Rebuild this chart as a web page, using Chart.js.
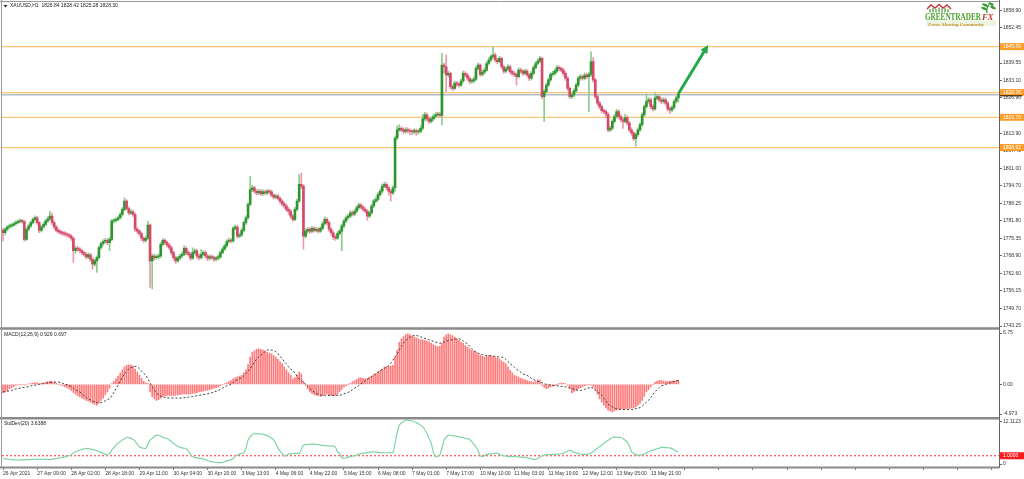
<!DOCTYPE html>
<html>
<head>
<meta charset="utf-8">
<title>XAUUSD H1</title>
<script src="https://cdn.jsdelivr.net/npm/chart.js@4.4.0/dist/chart.umd.min.js"></script>
<style>
  html, body { margin: 0; padding: 0; background: #fff; }
  #wrap { position: relative; width: 1024px; height: 479px; }
</style>
</head>
<body>
<div id="wrap"><canvas id="chart" width="1024" height="479"></canvas></div>
<script>
// time axis labels, one every 16 H1 bars
const timeLabels = ['26 Apr 2021', '27 Apr 09:00', '28 Apr 02:00', '28 Apr 18:00', '29 Apr 11:00',
  '30 Apr 04:00', '30 Apr 20:00', '3 May 13:00', '4 May 06:00', '4 May 22:00', '5 May 15:00',
  '6 May 08:00', '7 May 01:00', '7 May 17:00', '10 May 10:00', '11 May 03:00', '11 May 19:00',
  '12 May 12:00', '13 May 05:00', '13 May 21:00'];
const barsPerLabel = 16;
const slotCount = 468; // candle slots across the window (empty space right of the last bar)

// XAUUSD H1 candles
const opens = [
  1778.3, 1777.4, 1778.7, 1779.5, 1779.9, 1780.2, 1780.7, 1781.1, 1781.5, 1781.7,
  1781.5, 1775.0, 1778.7, 1779.9, 1781.1, 1782.3, 1782.9, 1781.1, 1778.3, 1779.5,
  1780.5, 1781.7, 1782.5, 1783.5, 1781.1, 1779.5, 1778.3, 1777.8, 1777.4, 1777.1,
  1776.9, 1776.6, 1776.2, 1775.4, 1770.8, 1771.7, 1771.4, 1770.8, 1770.1, 1769.5,
  1768.6, 1769.3, 1767.7, 1765.9, 1767.1, 1768.3, 1772.0, 1773.4, 1774.2, 1774.6,
  1773.8, 1775.0, 1781.7, 1781.9, 1782.3, 1782.9, 1784.1, 1786.0, 1789.0, 1786.3,
  1784.7, 1785.1, 1784.1, 1778.7, 1778.0, 1777.1, 1775.4, 1774.6, 1775.4, 1780.2,
  1767.1, 1768.9, 1768.3, 1768.6, 1768.9, 1773.2, 1774.6, 1773.8, 1772.9, 1772.0,
  1770.1, 1768.3, 1767.1, 1768.1, 1768.9, 1769.5, 1771.7, 1770.1, 1769.5, 1768.1,
  1770.1, 1770.8, 1768.9, 1768.3, 1769.5, 1770.1, 1768.9, 1768.1, 1768.6, 1768.3,
  1767.7, 1768.1, 1768.6, 1770.1, 1771.4, 1772.6, 1774.2, 1774.6, 1774.4, 1779.0,
  1779.5, 1776.2, 1776.6, 1778.3, 1781.1, 1782.9, 1787.8, 1793.2, 1793.9, 1792.6,
  1792.0, 1792.6, 1791.7, 1792.4, 1792.0, 1792.6, 1792.4, 1791.2, 1790.4, 1790.8,
  1790.0, 1789.0, 1788.0, 1787.2, 1786.0, 1785.3, 1783.5, 1782.3, 1786.0, 1789.0,
  1795.1, 1794.5, 1776.2, 1778.0, 1778.7, 1778.0, 1779.0, 1778.3, 1778.7, 1778.0,
  1779.0, 1780.7, 1782.3, 1781.1, 1778.7, 1777.4, 1775.9, 1775.4, 1777.1, 1778.0,
  1779.9, 1781.7, 1782.9, 1783.5, 1784.7, 1784.2, 1785.3, 1786.6, 1787.5, 1786.8,
  1786.0, 1785.3, 1783.5, 1784.7, 1787.2, 1789.0, 1789.6, 1791.4, 1792.6, 1794.5,
  1795.1, 1793.9, 1792.6, 1792.0, 1793.9, 1812.1, 1815.1, 1815.7, 1815.1, 1814.5,
  1815.1, 1814.8, 1814.5, 1814.3, 1814.8, 1814.3, 1814.5, 1815.7, 1819.1, 1820.6,
  1819.1, 1818.2, 1819.1, 1820.0, 1820.6, 1820.8, 1820.4, 1838.8, 1838.2, 1835.2,
  1835.8, 1830.9, 1830.3, 1832.2, 1831.8, 1831.5, 1833.0, 1835.8, 1835.2, 1834.0,
  1832.8, 1833.0, 1833.7, 1837.6, 1838.8, 1835.4, 1836.2, 1837.0, 1839.4, 1840.7,
  1841.9, 1842.5, 1840.7, 1840.1, 1841.3, 1838.2, 1836.6, 1837.4, 1838.2, 1836.4,
  1835.8, 1835.4, 1834.6, 1837.0, 1836.6, 1835.8, 1836.6, 1835.2, 1834.0, 1835.8,
  1837.9, 1839.4, 1840.3, 1841.3, 1827.3, 1829.1, 1831.5, 1833.4, 1835.4, 1835.8,
  1836.6, 1837.9, 1837.6, 1837.0, 1835.8, 1834.0, 1830.3, 1827.3, 1827.9, 1829.4,
  1831.5, 1834.0, 1834.6, 1834.0, 1835.2, 1834.6, 1835.4, 1840.1, 1833.4, 1827.3,
  1824.9, 1823.6, 1822.1, 1821.8, 1820.8, 1815.1, 1815.7, 1818.2, 1820.0, 1821.8,
  1820.0, 1818.8, 1818.2, 1819.6, 1817.6, 1815.1, 1813.9, 1811.9, 1813.3, 1815.1,
  1817.0, 1820.6, 1823.6, 1825.5, 1826.1, 1823.6, 1822.8, 1826.7, 1827.3, 1826.1,
  1825.5, 1826.1, 1824.9, 1822.8, 1822.4, 1823.3, 1825.5, 1826.84
];
const highs = [
  1779.0, 1779.3, 1780.1, 1780.6, 1780.8, 1781.3, 1781.9, 1782.1, 1782.5, 1782.3,
  1781.9, 1779.2, 1780.5, 1781.6, 1782.9, 1783.6, 1783.4, 1781.6, 1780.1, 1781.2,
  1782.3, 1783.3, 1785.3, 1784.6, 1781.8, 1780.1, 1778.9, 1778.5, 1778.0, 1777.8,
  1777.5, 1777.2, 1776.8, 1775.9, 1772.5, 1772.3, 1772.0, 1771.4, 1770.7, 1770.1,
  1770.0, 1769.9, 1768.3, 1767.8, 1769.0, 1772.6, 1774.0, 1774.9, 1775.4, 1775.3,
  1775.7, 1782.3, 1782.6, 1783.0, 1783.6, 1784.8, 1786.7, 1790.2, 1789.6, 1786.9,
  1785.9, 1785.7, 1784.6, 1779.4, 1778.6, 1777.7, 1776.0, 1776.2, 1781.7, 1780.7,
  1769.6, 1769.6, 1769.3, 1769.6, 1773.9, 1775.4, 1775.2, 1774.4, 1773.5, 1772.6,
  1770.7, 1768.9, 1768.8, 1769.6, 1770.3, 1772.6, 1772.3, 1770.8, 1770.1, 1771.9,
  1771.5, 1771.4, 1769.6, 1771.2, 1770.9, 1770.7, 1769.5, 1769.3, 1769.2, 1768.9,
  1768.8, 1769.3, 1770.8, 1772.1, 1773.3, 1774.9, 1775.5, 1775.2, 1779.7, 1780.3,
  1780.1, 1777.3, 1779.0, 1781.8, 1783.6, 1788.5, 1798.1, 1794.8, 1794.5, 1793.3,
  1793.4, 1793.2, 1793.1, 1793.0, 1793.3, 1793.2, 1793.0, 1791.8, 1791.5, 1791.4,
  1790.6, 1789.6, 1788.6, 1787.9, 1786.6, 1785.9, 1784.1, 1786.7, 1789.7, 1798.7,
  1799.3, 1795.0, 1778.8, 1779.4, 1779.3, 1779.8, 1779.6, 1779.4, 1779.3, 1779.7,
  1781.4, 1783.2, 1782.9, 1781.7, 1779.3, 1778.0, 1776.6, 1777.8, 1778.7, 1780.6,
  1782.4, 1783.6, 1784.2, 1785.4, 1785.4, 1786.0, 1787.3, 1788.3, 1788.1, 1787.4,
  1786.6, 1785.9, 1785.4, 1787.9, 1789.7, 1790.5, 1792.1, 1793.4, 1795.3, 1796.0,
  1795.8, 1794.5, 1793.3, 1794.6, 1812.8, 1816.6, 1816.9, 1816.3, 1815.8, 1815.9,
  1815.8, 1815.5, 1815.2, 1815.6, 1815.4, 1815.3, 1816.6, 1820.8, 1821.5, 1821.2,
  1819.8, 1819.9, 1820.8, 1821.4, 1821.6, 1821.5, 1843.1, 1839.6, 1842.5, 1836.6,
  1836.3, 1831.6, 1833.0, 1832.9, 1832.5, 1833.8, 1836.6, 1836.4, 1835.8, 1834.6,
  1833.8, 1834.5, 1838.4, 1839.6, 1839.3, 1837.0, 1837.8, 1840.1, 1841.5, 1842.7,
  1845.5, 1843.2, 1841.4, 1842.0, 1841.8, 1838.8, 1838.2, 1839.0, 1838.8, 1837.0,
  1836.5, 1836.0, 1837.8, 1837.7, 1837.2, 1837.4, 1837.2, 1835.8, 1836.5, 1838.6,
  1840.1, 1841.0, 1842.0, 1841.8, 1829.8, 1832.2, 1834.1, 1836.1, 1836.6, 1837.4,
  1838.7, 1838.5, 1838.2, 1837.6, 1836.4, 1834.6, 1830.9, 1828.7, 1830.1, 1832.2,
  1834.8, 1835.4, 1835.3, 1836.0, 1835.9, 1836.2, 1843.7, 1841.6, 1834.0, 1827.9,
  1825.6, 1824.3, 1822.8, 1822.4, 1821.4, 1816.5, 1818.9, 1820.8, 1822.6, 1822.4,
  1820.6, 1819.5, 1820.9, 1820.2, 1818.2, 1815.8, 1814.5, 1814.0, 1815.8, 1817.7,
  1821.3, 1824.3, 1828.3, 1826.9, 1826.7, 1824.3, 1828.6, 1828.1, 1827.9, 1826.8,
  1826.9, 1826.7, 1825.5, 1823.5, 1824.0, 1826.2, 1827.4, 1828.42
];
const lows = [
  1774.4, 1776.6, 1778.2, 1779.0, 1779.4, 1779.8, 1780.2, 1780.6, 1781.0, 1780.8,
  1774.3, 1774.6, 1778.1, 1779.4, 1780.6, 1781.7, 1780.5, 1777.4, 1777.7, 1779.0,
  1780.0, 1781.1, 1782.0, 1780.4, 1778.7, 1777.6, 1777.1, 1776.7, 1776.3, 1776.2,
  1775.9, 1775.5, 1774.6, 1766.5, 1769.8, 1770.6, 1770.0, 1769.4, 1768.8, 1767.8,
  1767.9, 1766.9, 1764.1, 1765.2, 1762.9, 1767.7, 1771.4, 1772.8, 1773.6, 1773.0,
  1770.8, 1774.5, 1781.0, 1781.3, 1781.7, 1782.3, 1783.6, 1785.5, 1785.7, 1783.9,
  1784.0, 1783.4, 1777.9, 1777.2, 1776.3, 1774.5, 1773.8, 1774.0, 1775.0, 1757.4,
  1756.8, 1767.5, 1767.6, 1767.9, 1768.3, 1772.6, 1773.0, 1772.1, 1771.2, 1769.3,
  1767.5, 1766.2, 1766.5, 1767.5, 1768.3, 1769.0, 1769.4, 1768.8, 1767.3, 1767.6,
  1769.5, 1768.0, 1767.5, 1767.7, 1768.9, 1768.1, 1767.2, 1767.4, 1767.6, 1766.9,
  1767.1, 1767.5, 1768.0, 1769.6, 1770.9, 1772.0, 1773.6, 1773.7, 1773.9, 1778.4,
  1775.4, 1775.6, 1776.0, 1777.7, 1780.5, 1782.4, 1787.3, 1792.5, 1791.9, 1791.2,
  1791.4, 1791.0, 1791.1, 1791.3, 1791.4, 1791.7, 1790.5, 1789.7, 1789.8, 1789.3,
  1788.2, 1787.2, 1786.4, 1785.2, 1784.1, 1782.6, 1781.6, 1781.8, 1785.4, 1788.5,
  1793.6, 1771.4, 1775.5, 1777.3, 1777.2, 1777.4, 1777.6, 1777.7, 1777.3, 1777.5,
  1778.5, 1780.1, 1780.4, 1777.9, 1776.6, 1775.0, 1774.6, 1774.9, 1776.5, 1770.8,
  1779.3, 1781.1, 1782.3, 1783.0, 1783.5, 1783.7, 1784.8, 1786.0, 1786.1, 1785.3,
  1784.6, 1782.0, 1782.9, 1784.1, 1786.6, 1788.3, 1789.0, 1790.8, 1792.0, 1793.9,
  1793.1, 1791.2, 1789.0, 1791.4, 1792.6, 1811.5, 1814.5, 1814.4, 1813.6, 1813.9,
  1814.0, 1813.3, 1813.4, 1813.6, 1813.1, 1813.5, 1814.0, 1815.1, 1818.4, 1818.3,
  1817.4, 1817.6, 1818.5, 1819.4, 1820.0, 1819.6, 1816.9, 1836.0, 1829.1, 1834.4,
  1830.1, 1829.4, 1829.8, 1831.0, 1830.7, 1831.0, 1832.5, 1834.6, 1833.2, 1831.9,
  1832.1, 1832.4, 1833.2, 1837.0, 1834.7, 1834.8, 1835.6, 1836.5, 1838.9, 1840.1,
  1841.3, 1840.0, 1839.3, 1839.6, 1837.5, 1835.8, 1836.0, 1836.8, 1835.6, 1835.0,
  1834.6, 1831.5, 1834.0, 1835.9, 1835.0, 1835.2, 1834.5, 1833.1, 1833.4, 1835.2,
  1837.3, 1838.8, 1839.7, 1826.4, 1818.2, 1828.5, 1830.9, 1832.8, 1834.7, 1835.1,
  1836.0, 1836.9, 1836.3, 1835.0, 1833.2, 1829.5, 1826.5, 1826.6, 1827.2, 1828.8,
  1830.9, 1833.3, 1833.3, 1833.4, 1833.8, 1821.8, 1834.8, 1832.6, 1826.5, 1824.1,
  1822.8, 1821.3, 1821.0, 1819.6, 1814.3, 1814.4, 1815.1, 1817.6, 1819.4, 1819.2,
  1818.0, 1815.6, 1817.6, 1816.8, 1814.3, 1813.1, 1811.1, 1809.0, 1812.7, 1814.5,
  1816.4, 1820.0, 1823.0, 1824.9, 1822.8, 1822.0, 1822.2, 1826.1, 1825.3, 1824.7,
  1824.9, 1824.1, 1822.0, 1821.0, 1821.8, 1822.7, 1825.0, 1825.28
];
const closes = [
  1777.4, 1778.7, 1779.5, 1779.9, 1780.2, 1780.7, 1781.1, 1781.5, 1781.7, 1781.5,
  1775.0, 1778.7, 1779.9, 1781.1, 1782.3, 1782.9, 1781.1, 1778.3, 1779.5, 1780.5,
  1781.7, 1782.5, 1783.5, 1781.1, 1779.5, 1778.3, 1777.8, 1777.4, 1777.1, 1776.9,
  1776.6, 1776.2, 1775.4, 1770.8, 1771.7, 1771.4, 1770.8, 1770.1, 1769.5, 1768.6,
  1769.3, 1767.7, 1765.9, 1767.1, 1768.3, 1772.0, 1773.4, 1774.2, 1774.6, 1773.8,
  1775.0, 1781.7, 1781.9, 1782.3, 1782.9, 1784.1, 1786.0, 1789.0, 1786.3, 1784.7,
  1785.1, 1784.1, 1778.7, 1778.0, 1777.1, 1775.4, 1774.6, 1775.4, 1780.2, 1767.1,
  1768.9, 1768.3, 1768.6, 1768.9, 1773.2, 1774.6, 1773.8, 1772.9, 1772.0, 1770.1,
  1768.3, 1767.1, 1768.1, 1768.9, 1769.5, 1771.7, 1770.1, 1769.5, 1768.1, 1770.1,
  1770.8, 1768.9, 1768.3, 1769.5, 1770.1, 1768.9, 1768.1, 1768.6, 1768.3, 1767.7,
  1768.1, 1768.6, 1770.1, 1771.4, 1772.6, 1774.2, 1774.6, 1774.4, 1779.0, 1779.5,
  1776.2, 1776.6, 1778.3, 1781.1, 1782.9, 1787.8, 1793.2, 1793.9, 1792.6, 1792.0,
  1792.6, 1791.7, 1792.4, 1792.0, 1792.6, 1792.4, 1791.2, 1790.4, 1790.8, 1790.0,
  1789.0, 1788.0, 1787.2, 1786.0, 1785.3, 1783.5, 1782.3, 1786.0, 1789.0, 1795.1,
  1794.5, 1776.2, 1778.0, 1778.7, 1778.0, 1779.0, 1778.3, 1778.7, 1778.0, 1779.0,
  1780.7, 1782.3, 1781.1, 1778.7, 1777.4, 1775.9, 1775.4, 1777.1, 1778.0, 1779.9,
  1781.7, 1782.9, 1783.5, 1784.7, 1784.2, 1785.3, 1786.6, 1787.5, 1786.8, 1786.0,
  1785.3, 1783.5, 1784.7, 1787.2, 1789.0, 1789.6, 1791.4, 1792.6, 1794.5, 1795.1,
  1793.9, 1792.6, 1792.0, 1793.9, 1812.1, 1815.1, 1815.7, 1815.1, 1814.5, 1815.1,
  1814.8, 1814.5, 1814.3, 1814.8, 1814.3, 1814.5, 1815.7, 1819.1, 1820.6, 1819.1,
  1818.2, 1819.1, 1820.0, 1820.6, 1820.8, 1820.4, 1838.8, 1838.2, 1835.2, 1835.8,
  1830.9, 1830.3, 1832.2, 1831.8, 1831.5, 1833.0, 1835.8, 1835.2, 1834.0, 1832.8,
  1833.0, 1833.7, 1837.6, 1838.8, 1835.4, 1836.2, 1837.0, 1839.4, 1840.7, 1841.9,
  1842.5, 1840.7, 1840.1, 1841.3, 1838.2, 1836.6, 1837.4, 1838.2, 1836.4, 1835.8,
  1835.4, 1834.6, 1837.0, 1836.6, 1835.8, 1836.6, 1835.2, 1834.0, 1835.8, 1837.9,
  1839.4, 1840.3, 1841.3, 1827.3, 1829.1, 1831.5, 1833.4, 1835.4, 1835.8, 1836.6,
  1837.9, 1837.6, 1837.0, 1835.8, 1834.0, 1830.3, 1827.3, 1827.9, 1829.4, 1831.5,
  1834.0, 1834.6, 1834.0, 1835.2, 1834.6, 1835.4, 1840.1, 1833.4, 1827.3, 1824.9,
  1823.6, 1822.1, 1821.8, 1820.8, 1815.1, 1815.7, 1818.2, 1820.0, 1821.8, 1820.0,
  1818.8, 1818.2, 1819.6, 1817.6, 1815.1, 1813.9, 1811.9, 1813.3, 1815.1, 1817.0,
  1820.6, 1823.6, 1825.5, 1826.1, 1823.6, 1822.8, 1826.7, 1827.3, 1826.1, 1825.5,
  1826.1, 1824.9, 1822.8, 1822.4, 1823.3, 1825.5, 1826.8, 1828.3
];

// MACD(12,26,9): main line (histogram) and signal (dotted)
const macdMain = [
  -1.1, -1.0, -0.85, -0.6, -0.45, -0.3, -0.1, -0.05, 0.0, 0.0,
  -0.1, -0.05, 0.05, 0.1, 0.17, 0.22, 0.2, 0.1, 0.12, 0.2,
  0.3, 0.37, 0.42, 0.35, 0.28, 0.15, 0.0, -0.1, -0.2, -0.3,
  -0.42, -0.6, -0.8, -1.1, -1.3, -1.5, -1.66, -1.8, -1.95, -2.1,
  -2.2, -2.35, -2.5, -2.6, -2.75, -2.4, -2.1, -1.8, -1.4, -1.0,
  -0.5, 0.1, 0.4, 0.75, 1.1, 1.5, 1.9, 2.3, 2.5, 2.58,
  2.55, 2.4, 2.0, 1.6, 1.2, 0.8, 0.4, 0.2, 0.1, -1.0,
  -1.6, -1.9, -2.1, -2.0, -1.8, -1.6, -1.5, -1.45, -1.44, -1.45,
  -1.5, -1.45, -1.4, -1.35, -1.3, -1.25, -1.3, -1.3, -1.25, -1.2,
  -1.15, -1.1, -1.0, -0.95, -0.9, -0.82, -0.78, -0.7, -0.6, -0.5,
  -0.42, -0.35, -0.2, 0.0, 0.1, 0.2, 0.35, 0.5, 0.74, 0.9,
  1.0, 1.1, 1.18, 1.5, 1.9, 2.6, 3.6, 4.2, 4.45, 4.6,
  4.67, 4.6, 4.5, 4.4, 4.2, 4.1, 4.0, 3.8, 3.6, 3.3,
  3.0, 2.7, 2.3, 1.9, 1.5, 1.18, 0.74, 0.9, 1.2, 1.6,
  1.4, 0.4, -0.13, -0.6, -1.0, -1.2, -1.35, -1.44, -1.5, -1.57,
  -1.5, -1.3, -1.25, -1.35, -1.44, -1.5, -1.48, -1.3, -0.95, -0.65,
  -0.35, -0.2, 0.0, 0.15, 0.35, 0.5, 0.65, 0.85, 0.87, 0.8,
  0.74, 0.8, 0.96, 1.1, 1.3, 1.4, 1.6, 1.83, 2.0, 2.27,
  2.35, 2.36, 2.4, 2.5, 3.6, 4.5, 5.55, 6.0, 6.29, 6.55,
  6.64, 6.55, 6.35, 6.2, 6.1, 5.98, 5.9, 5.85, 5.78, 5.7,
  5.6, 5.4, 5.24, 5.1, 4.98, 5.0, 5.4, 6.2, 6.5, 6.64,
  6.5, 6.42, 6.2, 5.98, 5.8, 5.55, 5.4, 5.1, 4.9, 4.67,
  4.5, 4.35, 4.24, 4.0, 3.8, 3.7, 3.58, 3.7, 3.8, 3.75,
  3.67, 3.6, 3.5, 3.36, 3.1, 2.9, 2.7, 2.3, 1.83, 1.5,
  1.18, 1.05, 0.96, 0.8, 0.7, 0.61, 0.5, 0.4, 0.35, 0.3,
  0.35, 0.61, 0.55, -0.13, -0.4, -0.57, -0.5, -0.35, -0.25, -0.1,
  0.0, 0.1, 0.17, 0.15, 0.1, -0.1, -0.57, -1.13, -1.0, -0.8,
  -0.6, -0.45, -0.35, -0.2, -0.1, 0.0, -0.1, -0.26, -0.8, -1.3,
  -1.9, -2.3, -2.75, -3.1, -3.4, -3.5, -3.62, -3.5, -3.4, -3.3,
  -3.25, -3.2, -3.2, -3.2, -3.2, -3.1, -3.05, -2.95, -2.75, -2.5,
  -2.1, -1.6, -1.0, -0.7, -0.35, 0.0, 0.3, 0.4, 0.52, 0.5,
  0.45, 0.4, 0.4, 0.42, 0.44, 0.48, 0.5, 0.52
];
const macdSignal = [
  -1.0, -0.95, -0.9, -0.85, -0.78, -0.7, -0.6, -0.55, -0.5, -0.45,
  -0.4, -0.35, -0.3, -0.2, -0.15, -0.1, -0.05, 0.0, 0.05, 0.1,
  0.15, 0.2, 0.26, 0.28, 0.3, 0.3, 0.3, 0.25, 0.15, 0.05,
  -0.05, -0.13, -0.3, -0.5, -0.7, -0.85, -1.0, -1.25, -1.5, -1.7,
  -1.9, -2.05, -2.2, -2.3, -2.4, -2.45, -2.4, -2.3, -2.15, -2.0,
  -1.9, -1.5, -1.05, -0.57, -0.1, 0.45, 0.96, 1.35, 1.7, 2.05,
  2.2, 2.3, 2.36, 2.3, 2.05, 1.75, 1.45, 1.18, 0.7, 0.2,
  -0.35, -0.75, -1.1, -1.44, -1.55, -1.65, -1.72, -1.78, -1.8, -1.8,
  -1.8, -1.8, -1.8, -1.8, -1.78, -1.75, -1.72, -1.7, -1.66, -1.6,
  -1.55, -1.5, -1.44, -1.4, -1.35, -1.3, -1.25, -1.2, -1.1, -1.0,
  -0.9, -0.8, -0.65, -0.5, -0.35, -0.2, -0.13, 0.05, 0.25, 0.5,
  0.6, 0.74, 0.9, 1.1, 1.4, 1.7, 2.05, 2.5, 2.9, 3.3,
  3.6, 3.85, 4.1, 4.3, 4.5, 4.54, 4.5, 4.45, 4.3, 4.05,
  3.7, 3.36, 3.0, 2.7, 2.3, 2.0, 1.83, 1.5, 1.1, 0.7,
  0.5, 0.3, 0.0, -0.3, -0.57, -0.8, -1.0, -1.2, -1.3, -1.38,
  -1.44, -1.44, -1.44, -1.45, -1.45, -1.45, -1.44, -1.44, -1.44, -1.35,
  -1.25, -1.15, -1.05, -0.9, -0.7, -0.5, -0.35, -0.13, 0.05, 0.25,
  0.45, 0.65, 0.85, 1.0, 1.18, 1.4, 1.6, 1.8, 1.95, 2.1,
  2.27, 2.5, 2.8, 3.2, 3.6, 4.0, 4.5, 5.0, 5.4, 5.77,
  6.0, 6.2, 6.35, 6.42, 6.42, 6.35, 6.25, 6.15, 6.05, 5.98,
  5.85, 5.75, 5.65, 5.55, 5.48, 5.42, 5.45, 5.55, 5.65, 5.77,
  5.82, 5.88, 5.93, 5.98, 5.98, 5.9, 5.7, 5.5, 5.33, 5.0,
  4.7, 4.45, 4.24, 4.1, 4.0, 3.9, 3.85, 3.8, 3.8, 3.75,
  3.72, 3.7, 3.65, 3.6, 3.58, 3.5, 3.3, 3.0, 2.75, 2.5,
  2.25, 2.0, 1.8, 1.6, 1.4, 1.25, 1.18, 1.0, 0.8, 0.65,
  0.5, 0.4, 0.3, 0.2, 0.1, 0.0, -0.05, -0.1, -0.13, -0.15,
  -0.18, -0.22, -0.26, -0.3, -0.33, -0.35, -0.45, -0.55, -0.65, -0.72,
  -0.8, -0.8, -0.75, -0.65, -0.55, -0.45, -0.4, -0.5, -0.75, -1.0,
  -1.2, -1.44, -1.8, -2.2, -2.6, -2.8, -2.97, -3.1, -3.2, -3.25,
  -3.3, -3.3, -3.32, -3.32, -3.3, -3.3, -3.3, -3.2, -3.15, -3.05,
  -2.85, -2.6, -2.35, -2.1, -1.7, -1.35, -1.0, -0.7, -0.4, -0.2,
  -0.13, 0.0, 0.1, 0.2, 0.3, 0.38, 0.45, 0.52
];

// StdDev(20)
const stdDev = [
  1.93, 1.85, 1.75, 1.68, 1.6, 1.55, 1.52, 1.51, 1.52, 1.55,
  1.58, 1.6, 1.62, 1.65, 1.68, 1.68, 1.68, 1.7, 1.7, 1.68,
  1.68, 1.68, 1.68, 1.72, 1.8, 1.9, 2.0, 2.1, 2.2, 2.3,
  2.4, 2.6, 2.78, 3.36, 3.6, 3.8, 4.0, 4.2, 4.35, 4.46,
  4.4, 4.3, 4.2, 4.05, 3.9, 3.6, 3.4, 3.2, 3.0, 2.78,
  3.2, 4.04, 4.6, 5.3, 5.8, 6.14, 6.6, 6.9, 7.23, 7.2,
  7.0, 6.73, 6.3, 5.5, 4.88, 4.6, 4.5, 4.46, 5.5, 6.56,
  7.0, 7.5, 7.82, 7.8, 7.6, 7.3, 7.1, 6.98, 6.6, 6.2,
  5.8, 5.3, 5.0, 4.8, 4.6, 4.5, 4.46, 3.8, 2.9, 2.35,
  2.2, 2.05, 1.95, 1.93, 1.8, 1.6, 1.4, 1.2, 1.09, 1.0,
  0.9, 0.85, 0.84, 0.9, 1.1, 1.3, 1.45, 1.51, 1.9, 2.4,
  2.78, 3.0, 3.2, 3.36, 4.5, 6.56, 7.4, 8.0, 8.24, 8.2,
  8.15, 8.1, 8.07, 7.9, 7.7, 7.4, 7.1, 6.6, 5.72, 4.6,
  3.8, 3.2, 2.52, 2.7, 3.03, 3.1, 3.15, 3.2, 3.2, 3.2,
  4.2, 5.3, 5.4, 5.45, 5.5, 5.55, 5.55, 5.5, 5.4, 5.3,
  5.21, 5.15, 5.1, 5.08, 5.05, 5.05, 4.8, 3.6, 3.2, 2.1,
  1.93, 2.1, 2.25, 2.35, 2.5, 2.65, 2.8, 3.03, 3.1, 3.2,
  3.3, 3.4, 3.5, 3.6, 3.6, 3.55, 3.45, 3.4, 3.36, 3.36,
  3.36, 3.36, 3.36, 3.4, 5.72, 8.5, 10.3, 10.9, 11.3, 11.6,
  11.6, 11.5, 11.4, 11.2, 11.0, 10.7, 10.3, 9.9, 9.2, 8.24,
  7.0, 5.72, 3.5, 2.35, 2.5, 2.78, 4.5, 6.56, 7.3, 7.82,
  7.8, 7.7, 7.6, 7.5, 7.4, 7.3, 7.2, 7.0, 6.9, 6.73,
  6.2, 5.5, 4.88, 3.8, 2.6, 2.35, 2.6, 2.9, 3.03, 3.1,
  3.15, 3.2, 3.2, 3.0, 2.8, 2.6, 2.52, 2.45, 2.4, 2.38,
  2.36, 2.35, 2.3, 2.25, 2.2, 2.18, 2.1, 1.95, 1.8, 1.7,
  1.68, 1.9, 2.3, 2.6, 2.78, 2.85, 2.88, 2.9, 2.94, 2.95,
  3.0, 3.05, 3.1, 3.2, 3.5, 3.8, 4.04, 3.8, 3.5, 3.36,
  3.2, 3.05, 2.94, 2.94, 2.94, 3.1, 3.3, 3.6, 4.1, 4.5,
  4.88, 5.3, 5.7, 6.14, 6.5, 6.9, 7.23, 7.3, 7.3, 7.25,
  7.23, 7.0, 6.5, 6.14, 5.0, 3.6, 3.2, 2.9, 2.78, 2.78,
  2.8, 3.0, 3.3, 3.6, 3.8, 4.0, 4.2, 4.35, 4.5, 4.71,
  4.7, 4.65, 4.63, 4.6, 4.4, 4.1, 3.78, 3.6
];

// axis ticks and levels
const priceTicks = [1858.90, 1852.45, 1839.55, 1833.10, 1826.90, 1813.90, 1807.45, 1801.00,
  1794.70, 1788.25, 1781.80, 1775.35, 1768.90, 1762.60, 1756.15, 1749.70, 1743.25];
const priceLevels = [1845.59, 1828.76, 1819.70, 1808.62];
const bidPrice = 1828.30;
const macdTickValues = [6.75, 0, -3.9];
const macdTickLabels = ['6.75', '0.00', '-4.973'];
const stdTickValues = [11.2, 0.5];
const stdTickLabels = ['12.1123', '0'];
const stdLevel = 2.6;
const stdLevelLabel = '1.0000';
const arrowFrom = [317, 1828.3];
const arrowTo = [331, 1846.2];

const FONT = '"Liberation Sans", Arial, sans-serif';
const isUp = closes.map((c, i) => c >= opens[i]);

// text squeezed horizontally to a given width (logo lettering)
function fitText(ctx, text, x, y, width) {
    const w = ctx.measureText(text).width;
    ctx.save();
    ctx.translate(x, y);
    ctx.scale(Math.min(1, width / w), 1);
    ctx.fillText(text, 0, 0);
    ctx.restore();
}

const overlay = {
    id: 'overlay',
    beforeDatasetsDraw(chart) {
        const { ctx, chartArea: a, scales } = chart;
        ctx.save();
        // horizontal levels
        ctx.strokeStyle = '#ffc473';
        ctx.lineWidth = 1.2;
        priceLevels.forEach(v => {
            const y = scales.yP.getPixelForValue(v);
            ctx.beginPath(); ctx.moveTo(a.left, y); ctx.lineTo(a.right, y); ctx.stroke();
        });
        // bid line
        const by = scales.yP.getPixelForValue(bidPrice) + 1;
        ctx.strokeStyle = '#b3bcc8';
        ctx.lineWidth = 1.4;
        ctx.beginPath(); ctx.moveTo(a.left, by); ctx.lineTo(a.right, by); ctx.stroke();
        // stddev level (dotted red)
        const sy = scales.yS.getPixelForValue(stdLevel);
        ctx.strokeStyle = '#ff3030';
        ctx.lineWidth = 1;
        ctx.setLineDash([2, 2]);
        ctx.beginPath(); ctx.moveTo(a.left, sy); ctx.lineTo(a.right, sy); ctx.stroke();
        ctx.restore();
    },
    afterDraw(chart) {
        const { ctx, chartArea: a, scales } = chart;
        const { x, yP, yM, yS } = scales;
        ctx.save();

        // panel separators and frame
        ctx.strokeStyle = '#8a8a8a';
        ctx.lineWidth = 2.5;
        [yP.bottom, yM.bottom].forEach(y => {
            ctx.beginPath(); ctx.moveTo(0, y); ctx.lineTo(a.right, y); ctx.stroke();
        });
        ctx.lineWidth = 2;
        ctx.beginPath(); ctx.moveTo(0, a.bottom + 0.5); ctx.lineTo(a.right, a.bottom + 0.5); ctx.stroke();
        ctx.strokeStyle = '#9a9a9a';
        ctx.lineWidth = 1;
        ctx.beginPath(); ctx.moveTo(1.5, 0); ctx.lineTo(1.5, a.bottom); ctx.stroke();
        ctx.beginPath(); ctx.moveTo(0, 1.5); ctx.lineTo(a.right, 1.5); ctx.stroke();
        ctx.strokeStyle = '#666';
        ctx.beginPath(); ctx.moveTo(a.right + 0.5, 0); ctx.lineTo(a.right + 0.5, a.bottom + 1); ctx.stroke();

        // green arrow
        const x0 = x.getPixelForValue(arrowFrom[0]), y0 = yP.getPixelForValue(arrowFrom[1]);
        const x1 = x.getPixelForValue(arrowTo[0]), y1 = yP.getPixelForValue(arrowTo[1]);
        const ang = Math.atan2(y1 - y0, x1 - x0);
        const head = 9;
        ctx.strokeStyle = '#22a94b';
        ctx.fillStyle = '#22a94b';
        ctx.lineWidth = 3;
        ctx.beginPath();
        ctx.moveTo(x0, y0);
        ctx.lineTo(x1 - Math.cos(ang) * head * 0.7, y1 - Math.sin(ang) * head * 0.7);
        ctx.stroke();
        ctx.beginPath();
        ctx.moveTo(x1, y1);
        ctx.lineTo(x1 - head * Math.cos(ang - 0.45), y1 - head * Math.sin(ang - 0.45));
        ctx.lineTo(x1 - head * Math.cos(ang + 0.45), y1 - head * Math.sin(ang + 0.45));
        ctx.closePath();
        ctx.fill();

        // level boxes on the price axis
        ctx.font = '5px ' + FONT;
        ctx.textBaseline = 'middle';
        priceLevels.forEach(v => {
            const y = yP.getPixelForValue(v);
            ctx.fillStyle = '#ff9d2b';
            ctx.fillRect(a.right + 1, y - 3.5, 24, 7);
            ctx.fillStyle = '#fff';
            ctx.fillText(v.toFixed(2), a.right + 4, y);
        });
        const by = yP.getPixelForValue(bidPrice) + 2;
        ctx.strokeStyle = '#111';
        ctx.lineWidth = 1;
        ctx.beginPath(); ctx.moveTo(a.right + 1, by); ctx.lineTo(a.right + 23, by); ctx.stroke();

        const sy = yS.getPixelForValue(stdLevel);
        ctx.fillStyle = '#ff1a1a';
        ctx.fillRect(a.right + 1, sy - 3.5, 24, 7);
        ctx.fillStyle = '#fff';
        ctx.fillText(stdLevelLabel, a.right + 4, sy);

        // panel titles
        ctx.fillStyle = '#222';
        ctx.beginPath(); ctx.moveTo(3.5, 5); ctx.lineTo(7.5, 5); ctx.lineTo(5.5, 7.5); ctx.closePath(); ctx.fill();
        ctx.fillText('XAUUSD,H1  1826.84 1828.42 1825.28 1828.30', 10, 6);
        ctx.fillText('MACD(12,26,9) 0.929 0.697', 4, yM.top + 6);
        ctx.fillText('StdDev(20) 3.6388', 4, yS.top + 5);

        // GREENTRADER FX logo
        ctx.fillStyle = 'rgba(220,236,200,0.6)';
        ctx.fillRect(926, 20.5, 70, 5.5);
        ctx.strokeStyle = '#c8323c';
        ctx.lineWidth = 1.4;
        ctx.beginPath();
        [[927, 9], [931, 5], [935, 8], [939, 4.5], [943, 8], [947, 5], [951, 9]]
            .forEach(([px, py], i) => i ? ctx.lineTo(px, py) : ctx.moveTo(px, py));
        ctx.stroke();
        ctx.strokeStyle = '#3f9a2f';
        ctx.lineWidth = 1.2;
        [[930, 9], [933, 8], [936, 9], [939, 7.5], [942, 8.5], [945, 8], [948, 9]]
            .forEach(([px, py]) => { ctx.beginPath(); ctx.moveTo(px, 12.5); ctx.lineTo(px, py); ctx.stroke(); });
        ctx.strokeStyle = '#2f8a2a';
        ctx.lineWidth = 1.2;
        ctx.beginPath(); ctx.moveTo(987, 13); ctx.quadraticCurveTo(986, 8, 989, 5); ctx.stroke();
        ctx.fillStyle = '#3d9b34';
        [[985, 5], [991, 4], [993, 7.5], [984, 8.5]].forEach(([px, py]) => {
            ctx.beginPath(); ctx.ellipse(px, py, 3, 1.3, 0.4, 0, Math.PI * 2); ctx.fill();
        });
        ctx.textBaseline = 'alphabetic';
        ctx.font = 'bold 9.5px "Liberation Serif", serif';
        ctx.fillStyle = '#4a9e2c';
        fitText(ctx, 'GREENTRADER', 925, 20, 56);
        ctx.font = 'bold italic 8.5px "Liberation Serif", serif';
        ctx.fillStyle = '#c0392b';
        fitText(ctx, 'FX', 982, 20, 14);
        ctx.font = 'bold italic 5px "Liberation Serif", serif';
        ctx.fillStyle = '#c98a2e';
        fitText(ctx, 'Forex Sharing Community', 928, 25.5, 67);

        ctx.restore();
    }
};

const axisFont = { family: FONT, size: 5 };
const yAxisBase = {
    type: 'linear',
    position: 'right',
    stack: 'panes',
    border: { display: true, color: '#666' },
    grid: { drawOnChartArea: false, drawTicks: true, tickLength: 3, color: '#666' },
    afterFit: s => { s.width = 25; }
};

new Chart(document.getElementById('chart'), {
    type: 'bar',
    data: {
        labels: Array.from({ length: slotCount }, (_, i) => i),
        datasets: [
            {
                label: 'body', yAxisID: 'yP', order: 1, grouped: false,
                data: opens.map((o, i) => [o, closes[i]]),
                backgroundColor: isUp.map(u => (u ? '#2f962f' : '#d44a68')),
                barThickness: 2, minBarLength: 1
            },
            {
                label: 'wick', yAxisID: 'yP', order: 2, grouped: false,
                data: lows.map((l, i) => [l, highs[i]]),
                backgroundColor: isUp.map(u => (u ? '#8ccc8c' : '#e99aac')),
                barThickness: 1
            },
            {
                label: 'MACD', yAxisID: 'yM', order: 3, grouped: false,
                data: macdMain,
                backgroundColor: '#ff7a7a',
                barThickness: 1
            },
            {
                type: 'line', label: 'Signal', yAxisID: 'yM', order: 0,
                data: macdSignal,
                borderColor: '#3a3a3a', borderWidth: 1, borderDash: [2, 2],
                pointRadius: 0, tension: 0.3
            },
            {
                type: 'line', label: 'StdDev', yAxisID: 'yS', order: 0,
                data: stdDev,
                borderColor: '#7fd4a2', borderWidth: 1.2,
                pointRadius: 0, tension: 0.3
            }
        ]
    },
    options: {
        responsive: false,
        animation: false,
        devicePixelRatio: 1,
        layout: { padding: { top: 2, left: 2, right: 0, bottom: 0 } },
        plugins: { legend: { display: false }, tooltip: { enabled: false } },
        scales: {
            x: {
                type: 'category',
                offset: true,
                border: { display: false },
                grid: {
                    offset: false, drawOnChartArea: false, drawTicks: true, tickLength: 3,
                    color: c => (c.index % barsPerLabel === 0 ? '#777' : 'rgba(0,0,0,0)')
                },
                ticks: {
                    autoSkip: false, maxRotation: 0, minRotation: 0, align: 'start', padding: 1,
                    color: '#333', font: axisFont,
                    callback: (v, i) => (i % barsPerLabel === 0 && timeLabels[i / barsPerLabel]) || ''
                },
                afterFit: s => { s.height = 12; }
            },
            yP: {
                ...yAxisBase, stackWeight: 326, min: 1742.3, max: 1861.2,
                afterBuildTicks: s => { s.ticks = priceTicks.map(v => ({ value: v })); },
                ticks: { padding: 1, color: '#333', font: axisFont, callback: v => v.toFixed(2) }
            },
            yM: {
                ...yAxisBase, stackWeight: 90, min: -4.45, max: 7.33,
                afterBuildTicks: s => { s.ticks = macdTickValues.map(v => ({ value: v })); },
                ticks: { padding: 1, color: '#333', font: axisFont, callback: (v, i) => macdTickLabels[i] }
            },
            yS: {
                ...yAxisBase, stackWeight: 49, min: -0.25, max: 12.1123,
                afterBuildTicks: s => { s.ticks = stdTickValues.map(v => ({ value: v })); },
                ticks: { padding: 1, color: '#333', font: axisFont, callback: (v, i) => stdTickLabels[i] }
            }
        }
    },
    plugins: [overlay]
});
</script>
</body>
</html>
